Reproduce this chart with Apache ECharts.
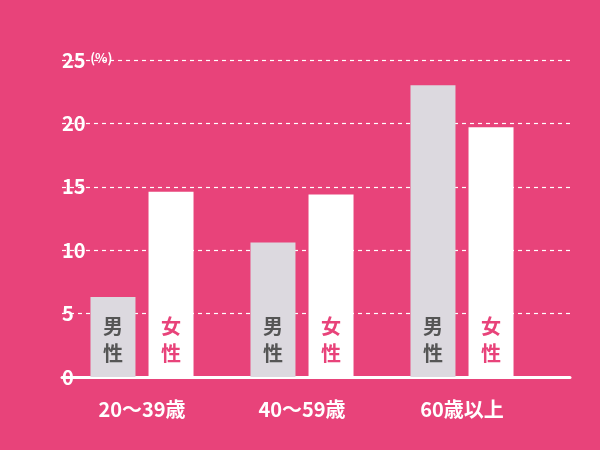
<!DOCTYPE html>
<html><head><meta charset="utf-8">
<script src="https://cdn.jsdelivr.net/npm/echarts@6/dist/echarts.min.js"></script>
<style>html,body{margin:0;padding:0;background:#e8437a}#c{width:600px;height:450px}</style>
</head><body><div id="c"></div>
<script>
var categories = ['20～39歳', '40～59歳', '60歳以上'];
var male = [6.3, 10.6, 23.0];
var female = [14.6, 14.4, 19.7];
var yTicks = [0, 5, 10, 15, 20, 25];
var font = '"Noto Sans CJK JP", "Noto Sans", sans-serif';
var chart = echarts.init(document.getElementById('c'));
chart.setOption({
  backgroundColor: '#e8437a',
  animation: false,
  grid: [
    {left: 62, top: 60, width: 480, bottom: 73},
    {left: 62, top: 60, right: 30, bottom: 73}
  ],
  xAxis: [
    {type: 'category', gridIndex: 0, data: categories,
     axisLine: {show: false}, axisTick: {show: false},
     axisLabel: {color: '#fff', fontSize: 20, fontWeight: 'bold', fontFamily: font, margin: 22}},
    {type: 'value', gridIndex: 1, min: 0, max: 1, show: true,
     axisLine: {show: true, lineStyle: {color: '#fff', width: 3}},
     axisTick: {show: false}, axisLabel: {show: false}, splitLine: {show: false}}
  ],
  yAxis: [
    {type: 'value', gridIndex: 0, min: 0, max: 25, interval: 5, show: false},
    {type: 'value', gridIndex: 1, min: 0, max: 25, interval: 5,
     axisLine: {show: false}, axisTick: {show: false},
     splitLine: {lineStyle: {color: '#fff', type: [4, 4], width: 1.2}},
     axisLabel: {color: '#fff', fontSize: 20, fontWeight: 'bold', fontFamily: font, margin: 0,
       align: 'left', padding: [0, 0, 0, 0],
       formatter: function (v) { return v === 25 ? '25 {s|(%)}' : String(v); },
       rich: {s: {fontSize: 13, color: '#fff', fontFamily: font, padding: [0, 0, 3, 0]}}}}
  ],
  series: [
    {type: 'bar', xAxisIndex: 0, yAxisIndex: 0, data: male, barWidth: 45, barGap: '29%',
     itemStyle: {color: '#dcd9df'}, z: 1,
     label: {show: true, position: 'insideBottom', distance: 10, formatter: '男\n性',
       color: '#555', fontSize: 20, fontWeight: 'bold', lineHeight: 27, fontFamily: font}},
    {type: 'bar', xAxisIndex: 0, yAxisIndex: 0, data: female, barWidth: 45,
     itemStyle: {color: '#fff'}, z: 1,
     label: {show: true, position: 'insideBottom', distance: 10, formatter: '女\n性',
       color: '#e8437a', fontSize: 20, fontWeight: 'bold', lineHeight: 27, fontFamily: font}}
  ]
});
</script></body></html>
